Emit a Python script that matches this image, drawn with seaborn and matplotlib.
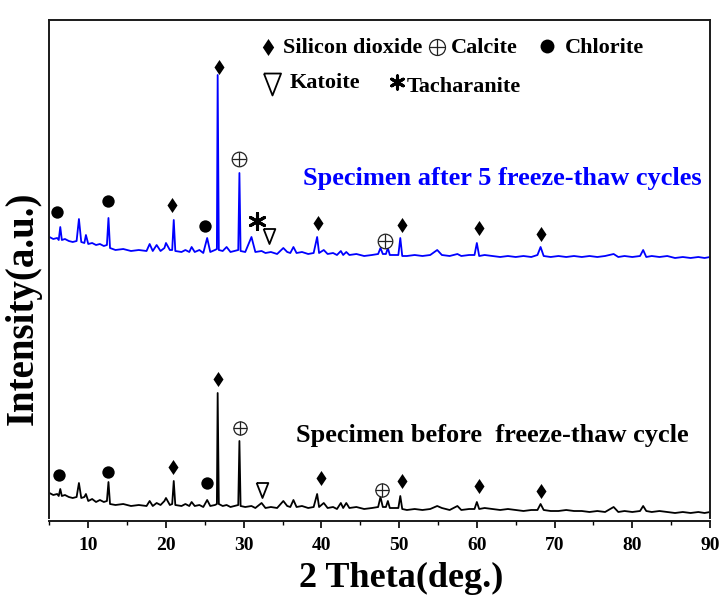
import matplotlib
matplotlib.use("Agg")
import matplotlib.pyplot as plt
import seaborn as sns
import pandas as pd
from matplotlib.ticker import MultipleLocator

# ---------------- data ----------------
two_theta = [
    5.0, 5.5, 6.0, 6.2, 6.4, 6.6, 7.0, 7.5, 8.0, 8.5,
    8.8, 9.1, 9.5, 9.7, 10.0, 10.5, 11.0, 11.5, 12.0, 12.4,
    12.6, 12.8, 13.5, 14.5, 15.5, 16.5, 17.5, 17.9, 18.3, 18.8,
    19.3, 19.8, 20.0, 20.5, 20.8, 21.0, 21.2, 22.0, 22.5, 23.0,
    23.3, 23.7, 24.3, 24.8, 25.3, 25.7, 26.3, 26.55, 26.65, 26.8,
    27.3, 27.8, 28.3, 28.8, 29.3, 29.45, 29.6, 30.2, 31.0, 31.5,
    32.3, 32.8, 33.5, 34.3, 35.1, 35.6, 36.0, 36.4, 36.8, 37.5,
    38.3, 39.0, 39.45, 39.7, 40.3, 40.8, 41.5, 42.0, 42.5, 42.8,
    43.2, 43.6, 44.5, 45.5, 46.5, 47.3, 47.6, 47.9, 48.3, 48.55,
    48.8, 49.5, 49.9, 50.15, 50.4, 51.0, 52.0, 53.0, 54.0, 54.9,
    55.5, 56.5, 57.5, 58.0, 59.0, 59.7, 60.0, 60.3, 61.0, 62.0,
    63.0, 64.0, 65.0, 66.0, 67.0, 67.8, 68.2, 68.6, 69.5, 70.5,
    71.5, 72.5, 73.5, 74.5, 75.5, 76.5, 77.6, 78.2, 79.0, 80.0,
    81.0, 81.4, 81.8, 82.5, 83.5, 84.5, 85.5, 86.5, 87.5, 88.5,
    89.3, 90.0,
]
intensity_after = [
    281, 279, 280, 278, 291, 278, 279, 277, 276, 277,
    299, 276, 275, 283, 274, 275, 273, 274, 272, 273,
    300, 270, 268, 269, 267, 268, 267, 274, 267, 273,
    267, 270, 275, 268, 268, 298, 267, 266, 268, 266,
    271, 266, 268, 265, 280, 266, 268, 269, 443, 268,
    267, 271, 266, 267, 268, 345, 267, 266, 281, 266,
    267, 265, 266, 264, 270, 266, 265, 271, 265, 266,
    264, 265, 281, 265, 268, 264, 265, 263, 267, 263,
    266, 263, 264, 262, 263, 264, 270, 264, 264, 270,
    263, 263, 263, 280, 262, 262, 263, 262, 263, 268,
    263, 262, 264, 262, 263, 263, 275, 262, 263, 262,
    261, 262, 261, 262, 261, 263, 271, 262, 261, 262,
    261, 262, 261, 262, 261, 262, 264, 261, 262, 261,
    262, 268, 261, 262, 261, 262, 260, 261, 260, 261,
    260, 261,
]
intensity_before = [
    25, 23, 24, 22, 29, 22, 23, 21, 20, 21,
    35, 20, 21, 24, 17, 19, 16, 18, 16, 17,
    36, 14, 13, 14, 12, 13, 12, 17, 12, 15,
    13, 17, 20, 13, 14, 37, 13, 12, 14, 12,
    16, 12, 13, 11, 18, 12, 13, 14, 125, 14,
    12, 13, 11, 12, 13, 77, 12, 11, 12, 10,
    15, 10, 11, 10, 17, 12, 11, 18, 11, 12,
    10, 11, 24, 11, 15, 10, 11, 9, 15, 10,
    15, 10, 11, 9, 10, 11, 21, 11, 11, 17,
    10, 10, 10, 22, 9, 8, 9, 8, 9, 12,
    10, 8, 12, 8, 9, 9, 16, 9, 10, 9,
    8, 9, 8, 7, 8, 8, 14, 8, 7, 7,
    8, 7, 7, 6, 7, 6, 11, 6, 7, 6,
    7, 12, 7, 6, 7, 6, 5, 6, 5, 6,
    5, 6,
]

# phase symbols above peaks (2theta, height of the symbol)
after_quartz_x = [20.82, 26.83, 39.61, 50.34, 60.33, 68.27]
after_quartz_y = [313, 451, 295, 293, 290, 284]
after_calcite_x = [29.44, 48.19]
after_calcite_y = [359, 277]
after_chlorite_x = [5.94, 12.50, 25.03]
after_chlorite_y = [306, 317, 292]
after_katoite_x = [33.30]
after_katoite_y = [282]
after_tacharanite_x = [31.68]
after_tacharanite_y = [297]

before_quartz_x = [20.95, 26.74, 39.92, 50.42, 60.29, 68.27]
before_quartz_y = [51, 139, 40, 37, 32, 27]
before_calcite_x = [29.53, 47.77]
before_calcite_y = [90, 28]
before_chlorite_x = [6.24, 12.58, 25.32]
before_chlorite_y = [43, 46, 35]
before_katoite_x = [32.32]
before_katoite_y = [28]

phase_names = ["Silicon dioxide", "Calcite", "Chlorite", "Katoite", "Tacharanite"]
label_after = "Specimen after 5 freeze-thaw cycles"
label_before = "Specimen before  freeze-thaw cycle"
x_ticks = [10, 20, 30, 40, 50, 60, 70, 80, 90]

# ---------------- styling ----------------
sns.set_style("ticks")
plt.rcParams["font.family"] = ["Liberation Serif", "DejaVu Serif"]
plt.rcParams["font.weight"] = "bold"
plt.rcParams["text.color"] = "black"
plt.rcParams["axes.labelcolor"] = "black"
plt.rcParams["xtick.color"] = "black"
plt.rcParams["ytick.color"] = "black"

df = pd.DataFrame({"two_theta": two_theta,
                   "after": intensity_after,
                   "before": intensity_before})

fig = plt.figure(figsize=(7.21, 6.02), dpi=100)
ax = fig.add_axes([49.4 / 721, 1 - 518 / 602, (710 - 49.4) / 721, (518 - 19.5) / 602])

sns.lineplot(data=df, x="two_theta", y="after", ax=ax, color="#0000FF",
             linewidth=1.3, estimator=None, sort=False)
sns.lineplot(data=df, x="two_theta", y="before", ax=ax, color="black",
             linewidth=1.3, estimator=None, sort=False)

diamond = [(0, 1), (0.67, 0), (0, -1), (-0.67, 0), (0, 1)]
tri_down = [(-0.78, 1), (0.78, 1), (0, -1), (-0.78, 1)]
asterisk = (6, 2, 0)


def quartz(x, y, ms):
    ax.scatter(x, y, marker=diamond, s=ms ** 2, color="black", linewidths=0, zorder=5)


def chlorite(x, y, ms):
    ax.scatter(x, y, marker="o", s=ms ** 2, color="black", linewidths=0, zorder=5)


def calcite(x, y, ms):
    ax.scatter(x, y, marker="o", s=ms ** 2, facecolors="white", edgecolors="#222222",
               linewidths=0.9, zorder=5)
    ax.scatter(x, y, marker="+", s=ms ** 2, color="#222222", linewidths=0.9, zorder=6)


def katoite(x, y, ms):
    ax.scatter(x, y, marker=tri_down, s=ms ** 2, facecolors="white", edgecolors="black",
               linewidths=1.3, zorder=5)


def tacharanite(x, y, ms):
    ax.scatter(x, y, marker=asterisk, s=ms ** 2, color="black", linewidths=2.2, zorder=5)


quartz(after_quartz_x, after_quartz_y, 10.8)
calcite(after_calcite_x, after_calcite_y, 10.5)
chlorite(after_chlorite_x, after_chlorite_y, 8.9)
katoite(after_katoite_x, after_katoite_y, 10.8)
tacharanite(after_tacharanite_x, after_tacharanite_y, 11.5)

quartz(before_quartz_x, before_quartz_y, 10.8)
calcite(before_calcite_x, before_calcite_y, 9.5)
chlorite(before_chlorite_x, before_chlorite_y, 8.9)
katoite(before_katoite_x, before_katoite_y, 10.8)

# legend-like key at the top
quartz([33.17], [471], 12.2)
ax.text(35.10, 464.7, phase_names[0], fontsize=16, fontweight="bold", ha="left", va="baseline")
calcite([54.85], [471], 11.5)
ax.text(56.70, 464.7, phase_names[1], fontsize=16, fontweight="bold", ha="left", va="baseline")
chlorite([69.0], [472], 10)
ax.text(71.30, 464.7, phase_names[2], fontsize=16, fontweight="bold", ha="left", va="baseline")
katoite([33.65], [434], 15.8)
ax.text(35.97, 429.7, phase_names[3], fontsize=16, fontweight="bold", ha="left", va="baseline")
tacharanite([49.70], [436], 9.5)
ax.text(50.98, 426.3, phase_names[4], fontsize=16, fontweight="bold", ha="left", va="baseline")

ax.text(37.68, 333, label_after, fontsize=19, fontweight="bold", color="#0000FF",
        ha="left", va="baseline")
ax.text(36.74, 76, label_before, fontsize=19, fontweight="bold", color="black",
        ha="left", va="baseline")

# axes
ax.set_xlim(5, 90)
ax.set_ylim(0, 498.5)
ax.set_xticks(x_ticks)
ax.xaxis.set_minor_locator(MultipleLocator(5))
ax.set_yticks([])
ax.tick_params(axis="x", which="major", direction="out", length=5, width=1.2,
               labelsize=14, pad=6, colors="black")
ax.tick_params(axis="x", which="minor", direction="out", length=3, width=1.0,
               colors="black")
for lab in ax.get_xticklabels():
    lab.set_fontweight("bold")

for side in ["left", "right", "top", "bottom"]:
    ax.spines[side].set_visible(True)
    ax.spines[side].set_linewidth(1.4)
    ax.spines[side].set_color("#1a1a1a")
ax.spines["bottom"].set_position(("outward", 2.5))

ax.set_xlabel("2 Theta(deg.)", fontsize=26, fontweight="bold", color="black")
ax.set_ylabel("Intensity(a.u.)", fontsize=28, fontweight="bold", color="black")
ax.xaxis.set_label_coords(0.533, -0.088)
ax.yaxis.set_label_coords(-0.012, 0.42)

fig.savefig("out.png", dpi=100)
